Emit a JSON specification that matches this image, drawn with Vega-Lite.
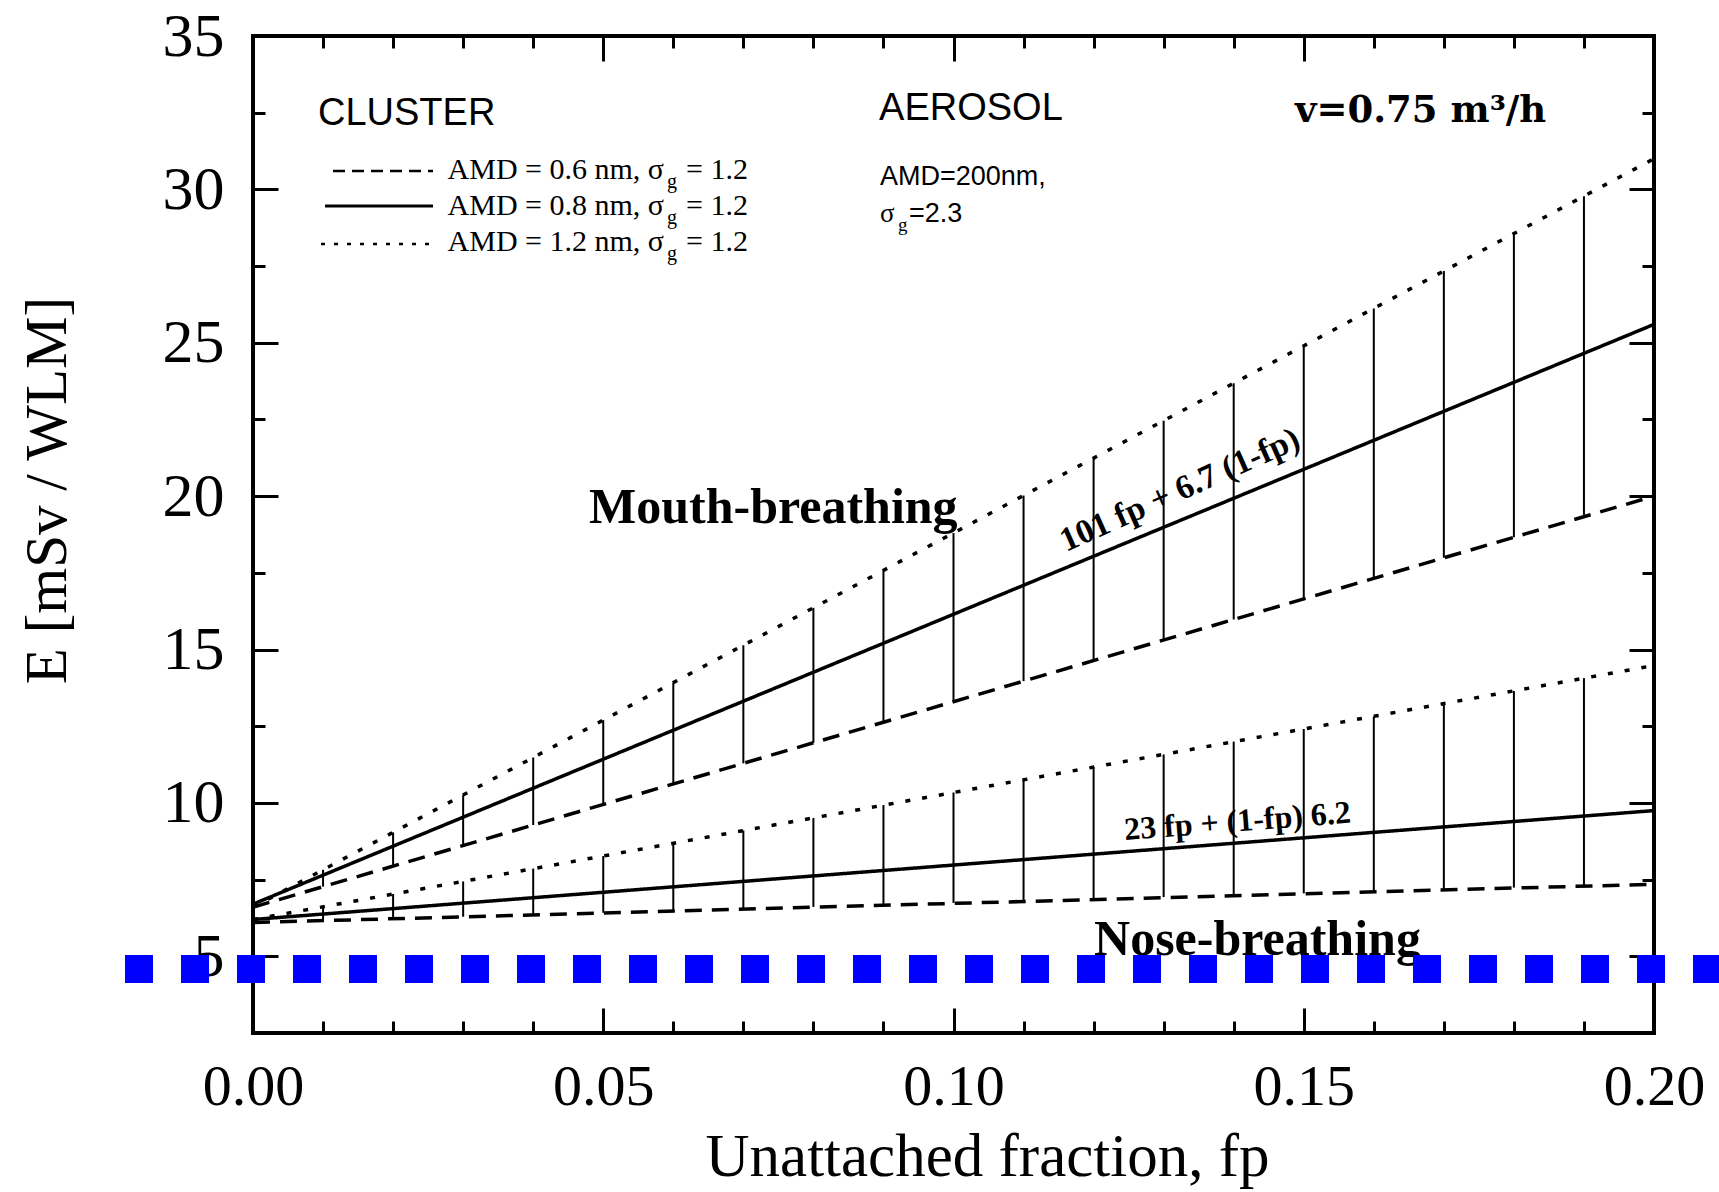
{
  "$schema": "https://vega.github.io/schema/vega-lite/v6.json",
  "autosize": "none",
  "width": 1401,
  "height": 997,
  "padding": {"left": 253, "top": 36, "right": 65, "bottom": 159},
  "background": "white",
  "data": {"values": [{"note": "annotation"}]},
  "config": {
    "view": {"stroke": "black", "strokeWidth": 4},
    "axis": {"grid": false, "domain": false, "tickColor": "black", "labelColor": "black", "titleColor": "black", "labelFont": "Liberation Serif", "titleFont": "Liberation Serif", "titleFontWeight": "normal"}
  },
  "datasets": {
    "curves": [
      {"mode": "Mouth", "amd": "0.6", "fp": 0.0, "E": 6.6},
      {"mode": "Mouth", "amd": "0.6", "fp": 0.2, "E": 20.0},
      {"mode": "Mouth", "amd": "0.8", "fp": 0.0, "E": 6.7},
      {"mode": "Mouth", "amd": "0.8", "fp": 0.2, "E": 25.6},
      {"mode": "Mouth", "amd": "1.2", "fp": 0.0, "E": 6.6},
      {"mode": "Mouth", "amd": "1.2", "fp": 0.2, "E": 31.0},
      {"mode": "Nose", "amd": "0.6", "fp": 0.0, "E": 6.1},
      {"mode": "Nose", "amd": "0.6", "fp": 0.2, "E": 7.35},
      {"mode": "Nose", "amd": "0.8", "fp": 0.0, "E": 6.2},
      {"mode": "Nose", "amd": "0.8", "fp": 0.2, "E": 9.75},
      {"mode": "Nose", "amd": "1.2", "fp": 0.0, "E": 6.2},
      {"mode": "Nose", "amd": "1.2", "fp": 0.2, "E": 14.48}
    ],
    "bars": [
      {"mode": "Mouth", "fp": 0.01, "lo": 7.27, "hi": 7.82},
      {"mode": "Mouth", "fp": 0.02, "lo": 7.94, "hi": 9.04},
      {"mode": "Mouth", "fp": 0.03, "lo": 8.61, "hi": 10.26},
      {"mode": "Mouth", "fp": 0.04, "lo": 9.28, "hi": 11.48},
      {"mode": "Mouth", "fp": 0.05, "lo": 9.95, "hi": 12.70},
      {"mode": "Mouth", "fp": 0.06, "lo": 10.62, "hi": 13.92},
      {"mode": "Mouth", "fp": 0.07, "lo": 11.29, "hi": 15.14},
      {"mode": "Mouth", "fp": 0.08, "lo": 11.96, "hi": 16.36},
      {"mode": "Mouth", "fp": 0.09, "lo": 12.63, "hi": 17.58},
      {"mode": "Mouth", "fp": 0.10, "lo": 13.30, "hi": 18.80},
      {"mode": "Mouth", "fp": 0.11, "lo": 13.97, "hi": 20.02},
      {"mode": "Mouth", "fp": 0.12, "lo": 14.64, "hi": 21.24},
      {"mode": "Mouth", "fp": 0.13, "lo": 15.31, "hi": 22.46},
      {"mode": "Mouth", "fp": 0.14, "lo": 15.98, "hi": 23.68},
      {"mode": "Mouth", "fp": 0.15, "lo": 16.65, "hi": 24.90},
      {"mode": "Mouth", "fp": 0.16, "lo": 17.32, "hi": 26.12},
      {"mode": "Mouth", "fp": 0.17, "lo": 17.99, "hi": 27.34},
      {"mode": "Mouth", "fp": 0.18, "lo": 18.66, "hi": 28.56},
      {"mode": "Mouth", "fp": 0.19, "lo": 19.33, "hi": 29.78},
      {"mode": "Nose", "fp": 0.01, "lo": 6.16, "hi": 6.61},
      {"mode": "Nose", "fp": 0.02, "lo": 6.23, "hi": 7.03},
      {"mode": "Nose", "fp": 0.03, "lo": 6.29, "hi": 7.44},
      {"mode": "Nose", "fp": 0.04, "lo": 6.35, "hi": 7.86},
      {"mode": "Nose", "fp": 0.05, "lo": 6.42, "hi": 8.27},
      {"mode": "Nose", "fp": 0.06, "lo": 6.48, "hi": 8.68},
      {"mode": "Nose", "fp": 0.07, "lo": 6.54, "hi": 9.10},
      {"mode": "Nose", "fp": 0.08, "lo": 6.61, "hi": 9.51},
      {"mode": "Nose", "fp": 0.09, "lo": 6.67, "hi": 9.93},
      {"mode": "Nose", "fp": 0.10, "lo": 6.74, "hi": 10.34},
      {"mode": "Nose", "fp": 0.11, "lo": 6.80, "hi": 10.75},
      {"mode": "Nose", "fp": 0.12, "lo": 6.86, "hi": 11.17},
      {"mode": "Nose", "fp": 0.13, "lo": 6.93, "hi": 11.58},
      {"mode": "Nose", "fp": 0.14, "lo": 6.99, "hi": 12.00},
      {"mode": "Nose", "fp": 0.15, "lo": 7.05, "hi": 12.41},
      {"mode": "Nose", "fp": 0.16, "lo": 7.12, "hi": 12.82},
      {"mode": "Nose", "fp": 0.17, "lo": 7.18, "hi": 13.24},
      {"mode": "Nose", "fp": 0.18, "lo": 7.24, "hi": 13.65},
      {"mode": "Nose", "fp": 0.19, "lo": 7.31, "hi": 14.07}
    ]
  },
  "resolve": {"axis": {"x": "independent", "y": "independent"}},
  "layer": [
    {
      "data": {"name": "curves"},
      "mark": {"type": "line", "color": "black", "strokeWidth": 3.5, "strokeCap": "butt"},
      "encoding": {
        "x": {"field": "fp", "type": "quantitative", "scale": {"domain": [0, 0.2], "nice": false, "zero": false},
          "axis": {"orient": "bottom", "values": [0, 0.05, 0.1, 0.15, 0.2], "format": ".2f", "labelFontSize": 58, "labelPadding": 50, "labelFlush": false, "labelOverlap": false, "tickSize": -25, "tickWidth": 3,
            "title": "Unattached fraction, fp", "titleFontSize": 61, "titleX": 734, "titleY": 142, "titleBaseline": "alphabetic", "titleAlign": "center", "titleAnchor": null}},
        "y": {"field": "E", "type": "quantitative", "scale": {"domain": [2.5, 35], "nice": false, "zero": false},
          "axis": {"orient": "left", "values": [5, 10, 15, 20, 25, 30, 35], "labelFontSize": 62, "labelPadding": 54, "labelFlush": false, "labelOverlap": false, "tickSize": -25, "tickWidth": 3,
            "title": "E [mSv / WLM]", "titleFontSize": 59, "titleAngle": -90, "titleX": -188, "titleY": 454, "titleBaseline": "alphabetic", "titleAlign": "center", "titleAnchor": null}},
        "detail": {"field": "mode", "type": "nominal"},
        "strokeDash": {"field": "amd", "type": "nominal", "scale": {"domain": ["0.6", "0.8", "1.2"], "range": [[17, 10], [1, 0], [5, 12]]}, "legend": null}
      }
    },
    {
      "data": {"name": "bars"},
      "mark": {"type": "rule", "color": "black", "strokeWidth": 2},
      "encoding": {
        "x": {"field": "fp", "type": "quantitative",
          "axis": {"orient": "bottom", "values": [0.01, 0.02, 0.03, 0.04, 0.06, 0.07, 0.08, 0.09, 0.11, 0.12, 0.13, 0.14, 0.16, 0.17, 0.18, 0.19], "labels": false, "tickSize": -12, "tickWidth": 3, "title": null}},
        "y": {"field": "lo", "type": "quantitative",
          "axis": {"orient": "left", "values": [7.5, 12.5, 17.5, 22.5, 27.5, 32.5], "labels": false, "tickSize": -12, "tickWidth": 3, "title": null}},
        "y2": {"field": "hi"}
      }
    },
    {
      "mark": {"type": "rule", "color": "black", "strokeWidth": 2.5, "strokeDash": [12, 7], "strokeCap": "butt"},
      "encoding": {
        "x": {"datum": 0.01142, "type": "quantitative",
          "axis": {"orient": "top", "values": [0, 0.05, 0.1, 0.15, 0.2], "labels": false, "tickSize": -25, "tickWidth": 3, "title": null}},
        "x2": {"datum": 0.0257},
        "y": {"datum": 30.6, "type": "quantitative",
          "axis": {"orient": "right", "values": [5, 10, 15, 20, 25, 30, 35], "labels": false, "tickSize": -25, "tickWidth": 3, "title": null}}
      }
    },
    {
      "mark": {"type": "rule", "color": "black", "strokeWidth": 3},
      "encoding": {
        "x": {"datum": 0.01028, "type": "quantitative",
          "axis": {"orient": "top", "values": [0.01, 0.02, 0.03, 0.04, 0.06, 0.07, 0.08, 0.09, 0.11, 0.12, 0.13, 0.14, 0.16, 0.17, 0.18, 0.19], "labels": false, "tickSize": -12, "tickWidth": 3, "title": null}},
        "x2": {"datum": 0.0257},
        "y": {"datum": 29.46, "type": "quantitative",
          "axis": {"orient": "right", "values": [7.5, 12.5, 17.5, 22.5, 27.5, 32.5], "labels": false, "tickSize": -12, "tickWidth": 3, "title": null}}
      }
    },
    {
      "mark": {"type": "rule", "color": "black", "strokeWidth": 2.5, "strokeDash": [4, 9], "strokeCap": "butt"},
      "encoding": {
        "x": {"datum": 0.00971, "type": "quantitative", "axis": null},
        "x2": {"datum": 0.0257},
        "y": {"datum": 28.22, "type": "quantitative", "axis": null}
      }
    },
    {
      "mark": {"type": "text", "text": "CLUSTER", "font": "Liberation Sans", "fontSize": 38, "align": "left", "baseline": "alphabetic", "color": "black"},
      "encoding": {"x": {"datum": 0.00928, "type": "quantitative", "axis": null}, "y": {"datum": 32.10, "type": "quantitative", "axis": null}}
    },
    {
      "mark": {"type": "text", "text": "AEROSOL", "font": "Liberation Sans", "fontSize": 38, "align": "left", "baseline": "alphabetic", "color": "black"},
      "encoding": {"x": {"datum": 0.08937, "type": "quantitative", "axis": null}, "y": {"datum": 32.26, "type": "quantitative", "axis": null}}
    },
    {
      "mark": {"type": "text", "text": "AMD = 0.6 nm, σ", "font": "Liberation Serif", "fontSize": 30, "align": "right", "baseline": "alphabetic", "color": "black"},
      "encoding": {"x": {"datum": 0.05867, "type": "quantitative", "axis": null}, "y": {"datum": 30.34, "type": "quantitative", "axis": null}}
    },
    {
      "mark": {"type": "text", "text": "g", "font": "Liberation Serif", "fontSize": 20, "align": "left", "baseline": "alphabetic", "color": "black"},
      "encoding": {"x": {"datum": 0.0591, "type": "quantitative", "axis": null}, "y": {"datum": 30.05, "type": "quantitative", "axis": null}}
    },
    {
      "mark": {"type": "text", "text": "= 1.2", "font": "Liberation Serif", "fontSize": 30, "align": "left", "baseline": "alphabetic", "color": "black"},
      "encoding": {"x": {"datum": 0.06181, "type": "quantitative", "axis": null}, "y": {"datum": 30.34, "type": "quantitative", "axis": null}}
    },
    {
      "mark": {"type": "text", "text": "AMD = 0.8 nm, σ", "font": "Liberation Serif", "fontSize": 30, "align": "right", "baseline": "alphabetic", "color": "black"},
      "encoding": {"x": {"datum": 0.05867, "type": "quantitative", "axis": null}, "y": {"datum": 29.17, "type": "quantitative", "axis": null}}
    },
    {
      "mark": {"type": "text", "text": "g", "font": "Liberation Serif", "fontSize": 20, "align": "left", "baseline": "alphabetic", "color": "black"},
      "encoding": {"x": {"datum": 0.0591, "type": "quantitative", "axis": null}, "y": {"datum": 28.87, "type": "quantitative", "axis": null}}
    },
    {
      "mark": {"type": "text", "text": "= 1.2", "font": "Liberation Serif", "fontSize": 30, "align": "left", "baseline": "alphabetic", "color": "black"},
      "encoding": {"x": {"datum": 0.06181, "type": "quantitative", "axis": null}, "y": {"datum": 29.17, "type": "quantitative", "axis": null}}
    },
    {
      "mark": {"type": "text", "text": "AMD = 1.2 nm, σ", "font": "Liberation Serif", "fontSize": 30, "align": "right", "baseline": "alphabetic", "color": "black"},
      "encoding": {"x": {"datum": 0.05867, "type": "quantitative", "axis": null}, "y": {"datum": 27.99, "type": "quantitative", "axis": null}}
    },
    {
      "mark": {"type": "text", "text": "g", "font": "Liberation Serif", "fontSize": 20, "align": "left", "baseline": "alphabetic", "color": "black"},
      "encoding": {"x": {"datum": 0.0591, "type": "quantitative", "axis": null}, "y": {"datum": 27.70, "type": "quantitative", "axis": null}}
    },
    {
      "mark": {"type": "text", "text": "= 1.2", "font": "Liberation Serif", "fontSize": 30, "align": "left", "baseline": "alphabetic", "color": "black"},
      "encoding": {"x": {"datum": 0.06181, "type": "quantitative", "axis": null}, "y": {"datum": 27.99, "type": "quantitative", "axis": null}}
    },
    {
      "mark": {"type": "text", "text": "AMD=200nm,", "font": "Liberation Sans", "fontSize": 27, "align": "left", "baseline": "alphabetic", "color": "black"},
      "encoding": {"x": {"datum": 0.08951, "type": "quantitative", "axis": null}, "y": {"datum": 30.14, "type": "quantitative", "axis": null}}
    },
    {
      "mark": {"type": "text", "text": "σ", "font": "Liberation Serif", "fontSize": 27, "align": "left", "baseline": "alphabetic", "color": "black"},
      "encoding": {"x": {"datum": 0.08951, "type": "quantitative", "axis": null}, "y": {"datum": 28.94, "type": "quantitative", "axis": null}}
    },
    {
      "mark": {"type": "text", "text": "g", "font": "Liberation Serif", "fontSize": 19, "align": "left", "baseline": "alphabetic", "color": "black"},
      "encoding": {"x": {"datum": 0.09208, "type": "quantitative", "axis": null}, "y": {"datum": 28.64, "type": "quantitative", "axis": null}}
    },
    {
      "mark": {"type": "text", "text": "=2.3", "font": "Liberation Sans", "fontSize": 27, "align": "left", "baseline": "alphabetic", "color": "black"},
      "encoding": {"x": {"datum": 0.09365, "type": "quantitative", "axis": null}, "y": {"datum": 28.94, "type": "quantitative", "axis": null}}
    },
    {
      "mark": {"type": "text", "text": "v=0.75 m³/h", "font": "DejaVu Serif", "fontWeight": "bold", "fontSize": 37, "align": "left", "baseline": "alphabetic", "color": "black"},
      "encoding": {"x": {"datum": 0.14875, "type": "quantitative", "axis": null}, "y": {"datum": 32.20, "type": "quantitative", "axis": null}}
    },
    {
      "mark": {"type": "text", "text": "Mouth-breathing", "font": "Liberation Serif", "fontWeight": "bold", "fontSize": 50, "align": "left", "baseline": "alphabetic", "color": "black"},
      "encoding": {"x": {"datum": 0.04797, "type": "quantitative", "axis": null}, "y": {"datum": 19.13, "type": "quantitative", "axis": null}}
    },
    {
      "mark": {"type": "text", "text": "101 fp + 6.7 (1-fp)", "font": "Liberation Serif", "fontWeight": "bold", "fontSize": 34, "align": "left", "baseline": "alphabetic", "angle": 336, "color": "black"},
      "encoding": {"x": {"datum": 0.11606, "type": "quantitative", "axis": null}, "y": {"datum": 18.18, "type": "quantitative", "axis": null}}
    },
    {
      "mark": {"type": "text", "text": "23 fp + (1-fp) 6.2", "font": "Liberation Serif", "fontWeight": "bold", "fontSize": 32, "align": "left", "baseline": "alphabetic", "angle": 355.6, "color": "black"},
      "encoding": {"x": {"datum": 0.12448, "type": "quantitative", "axis": null}, "y": {"datum": 8.79, "type": "quantitative", "axis": null}}
    },
    {
      "mark": {"type": "text", "text": "Nose-breathing", "font": "Liberation Serif", "fontWeight": "bold", "fontSize": 50, "align": "left", "baseline": "alphabetic", "color": "black"},
      "encoding": {"x": {"datum": 0.12006, "type": "quantitative", "axis": null}, "y": {"datum": 5.05, "type": "quantitative", "axis": null}}
    },
    {
      "mark": {"type": "rule", "color": "#0000FF", "strokeWidth": 28, "strokeDash": [28, 28], "strokeCap": "butt"},
      "encoding": {
        "x": {"datum": -0.01827, "type": "quantitative", "axis": null},
        "x2": {"datum": 0.215},
        "y": {"datum": 4.59, "type": "quantitative", "axis": null}
      }
    }
  ]
}
